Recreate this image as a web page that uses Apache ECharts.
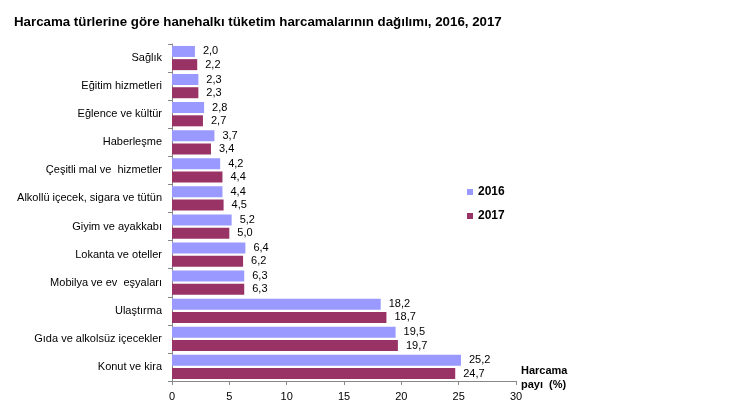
<!DOCTYPE html>
<html><head><meta charset="utf-8">
<script src="https://cdn.jsdelivr.net/npm/echarts@6/dist/echarts.min.js"></script>
<style>html,body{margin:0;padding:0;background:#fff}#c{width:729px;height:419px}</style>
</head><body><div id="c"></div>
<script>
const categories = ["Sağlık","Eğitim hizmetleri","Eğlence ve kültür","Haberleşme","Çeşitli mal ve  hizmetler","Alkollü içecek, sigara ve tütün","Giyim ve ayakkabı","Lokanta ve oteller","Mobilya ve ev  eşyaları","Ulaştırma","Gıda ve alkolsüz içecekler","Konut ve kira"];
const values2016 = [2.0,2.3,2.8,3.7,4.2,4.4,5.2,6.4,6.3,18.2,19.5,25.2];
const values2017 = [2.2,2.3,2.7,3.4,4.4,4.5,5.0,6.2,6.3,18.7,19.7,24.7];
const seriesNames = ["2016","2017"];
const xTicks = [0,5,10,15,20,25,30];

const chart = echarts.init(document.getElementById('c'), null, {renderer:'canvas'});
const font = 'Liberation Sans, Arial, sans-serif';
const lbl = {show:true, position:'right', distance:8, color:'#000', fontSize:11, fontFamily:font,
  formatter: p => p.value.toFixed(1).replace('.', ',')};
chart.setOption({
  animation:false,
  title:{text:'Harcama türlerine göre hanehalkı tüketim harcamalarının dağılımı, 2016, 2017',
    left:9, top:11, textStyle:{fontSize:13.3, fontWeight:'bold', color:'#000', fontFamily:font}},
  legend:{orient:'vertical', left:462, top:181, itemGap:12, itemWidth:6, itemHeight:6, icon:'rect',
    data:seriesNames, textStyle:{fontSize:12, fontWeight:'bold', color:'#000', fontFamily:font}},
  grid:{left:172, right:213, top:44, bottom:38, containLabel:false},
  xAxis:{type:'value', min:0, max:30, interval:5,
    axisLine:{show:true, lineStyle:{color:'#888'}},
    axisTick:{show:true, length:4, lineStyle:{color:'#888'}},
    splitLine:{show:false},
    axisLabel:{color:'#000', fontSize:11, fontFamily:font, margin:10, formatter:v=>xTicks.includes(v)?String(v):''}},
  yAxis:{type:'category', data:categories, inverse:true,
    axisLine:{show:true, lineStyle:{color:'#888'}},
    axisTick:{show:true, length:4, lineStyle:{color:'#888'}},
    axisLabel:{color:'#000', fontSize:11, fontFamily:font, margin:10}},
  graphic:[{type:'text', left:521, top:364, style:{text:'Harcama\npayı  (%)', fontSize:11, fontWeight:'bold', fill:'#000', font:'bold 11px '+font, lineHeight:14}}],
  series:[
    {name:seriesNames[0], type:'bar', data:values2016, barWidth:11, barGap:'20%', itemStyle:{color:'#9999FF'}, label:lbl},
    {name:seriesNames[1], type:'bar', data:values2017, barWidth:11, barGap:'20%', itemStyle:{color:'#993366'}, label:lbl}
  ]
});
</script></body></html>
